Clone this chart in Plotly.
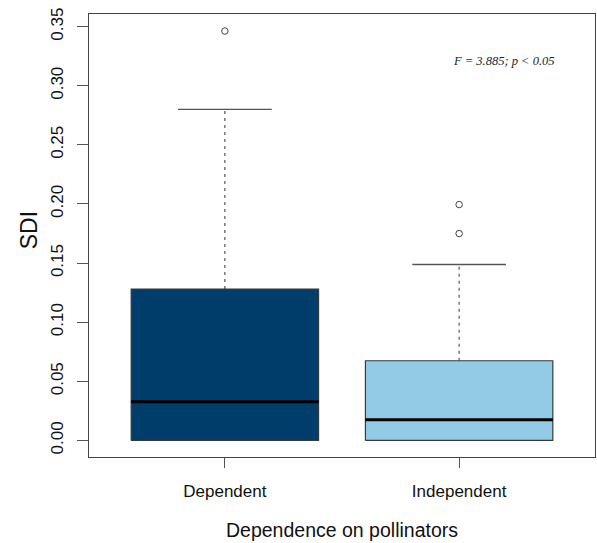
import plotly.graph_objects as go

categories = ["Dependent", "Independent"]
q1 = [0.0, 0.0]
median = [0.0327, 0.0175]
q3 = [0.128, 0.0674]
lower_whisker = [0.0, 0.0]
upper_whisker = [0.280, 0.1488]
outliers = [[0.3463], [0.1995, 0.175]]
fill_colors = ["#003d6b", "#93cbe7"]
y_ticks = [0.00, 0.05, 0.10, 0.15, 0.20, 0.25, 0.30, 0.35]
y_tick_labels = ["0.00", "0.05", "0.10", "0.15", "0.20", "0.25", "0.30", "0.35"]

box_half = 0.4
cap_half = 0.2
edge = "#3a3a3a"

fig = go.Figure()
for i, cat in enumerate(categories):
    c = i + 1
    fig.add_trace(go.Scatter(x=[c, c], y=[q3[i], upper_whisker[i]], mode="lines",
                             line=dict(color="#555555", width=1.2, dash="3px,4px"),
                             showlegend=False, hoverinfo="skip"))
    fig.add_trace(go.Scatter(x=[c, c], y=[lower_whisker[i], q1[i]], mode="lines",
                             line=dict(color="#555555", width=1.2, dash="3px,4px"),
                             showlegend=False, hoverinfo="skip"))
    fig.add_trace(go.Scatter(x=[c - cap_half, c + cap_half], y=[upper_whisker[i]] * 2, mode="lines",
                             line=dict(color="#555555", width=1.3), showlegend=False, hoverinfo="skip"))
    fig.add_trace(go.Scatter(x=[c - cap_half, c + cap_half], y=[lower_whisker[i]] * 2, mode="lines",
                             line=dict(color="#555555", width=1.3), showlegend=False, hoverinfo="skip"))
    fig.add_trace(go.Scatter(x=[c - box_half, c + box_half, c + box_half, c - box_half, c - box_half],
                             y=[q1[i], q1[i], q3[i], q3[i], q1[i]], mode="lines", fill="toself",
                             fillcolor=fill_colors[i], line=dict(color=edge, width=1.2),
                             showlegend=False, name=cat))
    fig.add_trace(go.Scatter(x=[c - box_half, c + box_half], y=[median[i]] * 2, mode="lines",
                             line=dict(color="black", width=3), showlegend=False, hoverinfo="skip"))
    fig.add_trace(go.Scatter(x=[c] * len(outliers[i]), y=outliers[i], mode="markers",
                             marker=dict(symbol="circle-open", size=6.5, color="#444444",
                                         line=dict(width=1)),
                             showlegend=False))

fig.add_annotation(text="<i>F = 3.885; p &lt; 0.05</i>", x=0.82, y=0.895,
                   xref="paper", yref="paper", showarrow=False,
                   font=dict(family="Liberation Serif", size=12.5, color="#222222"),
                   xanchor="center", yanchor="middle")
fig.add_annotation(text="SDI", x=-0.1196, y=0.513, xref="paper", yref="paper",
                   showarrow=False, textangle=-90,
                   font=dict(family="Liberation Sans", size=23, color="#111111"),
                   xanchor="center", yanchor="middle")
fig.add_annotation(text="Dependence on pollinators", x=0.5, y=-0.164, xref="paper", yref="paper",
                   showarrow=False,
                   font=dict(family="Liberation Sans", size=19.5, color="#111111"),
                   xanchor="center", yanchor="middle")

fig.update_layout(
    width=597, height=543,
    margin=dict(l=89, r=2, t=14, b=86),
    plot_bgcolor="white", paper_bgcolor="white",
    xaxis=dict(range=[0.42, 2.58], tickvals=[1, 2], ticktext=categories,
               showgrid=False, zeroline=False, showline=True, mirror=True,
               linecolor="#444444", linewidth=1.2, ticks="outside", ticklen=10,
               tickcolor="#555555", tickfont=dict(family="Liberation Sans", size=17, color="#111111"),
               ticklabelstandoff=8),
    yaxis=dict(range=[-0.01404, 0.3607], tickvals=y_ticks, ticktext=y_tick_labels,
               showgrid=False, zeroline=False, showline=True, mirror=True,
               linecolor="#444444", linewidth=1.2, ticks="outside", ticklen=11,
               tickcolor="#555555", tickangle=-90,
               tickfont=dict(family="Liberation Sans", size=17, color="#111111"),
               ticklabelstandoff=7),
)

fig.write_html("out.html", config={"displayModeBar": False},
               post_script="document.body.style.margin='0';")
